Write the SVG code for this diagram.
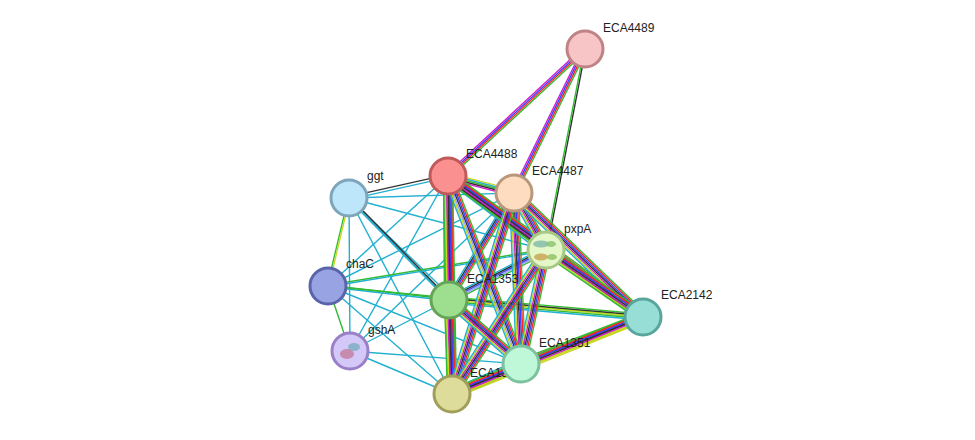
<svg xmlns="http://www.w3.org/2000/svg" xmlns:xlink="http://www.w3.org/1999/xlink" width="975" height="440" viewBox="0 0 975 440">
<style>
line,use{stroke-width:1.4;fill:none}
.g{stroke:#33bb33}.r{stroke:#ff2020}.b{stroke:#3344ff}.k{stroke:#333}.m{stroke:#cc22cc}.y{stroke:#c8d820}.c{stroke:#22b0d0}.l{stroke:#9999ff}
.n{stroke-width:3}
text{font-family:"Liberation Sans",Arial,sans-serif;font-size:12px;fill:#222}
</style>
<rect width="975" height="440" fill="#fff"/>
<defs>
<line id="BD" x1="448" y1="176" x2="449" y2="300"/>
<line id="BY" x1="448" y1="176" x2="452" y2="394"/>
<line id="DY" x1="449" y1="300" x2="452" y2="394"/>
<line id="BP" x1="448" y1="176" x2="546" y2="250"/>
<line id="BF" x1="448" y1="176" x2="521" y2="364"/>
<line id="BE" x1="448" y1="176" x2="643" y2="317"/>
<line id="CP" x1="514" y1="193" x2="546" y2="250"/>
<line id="CF" x1="514" y1="193" x2="521" y2="364"/>
<line id="CY" x1="514" y1="193" x2="452" y2="394"/>
<line id="CE" x1="514" y1="193" x2="643" y2="317"/>
<line id="PF" x1="546" y1="250" x2="521" y2="364"/>
<line id="PY" x1="546" y1="250" x2="452" y2="394"/>
<line id="PE" x1="546" y1="250" x2="643" y2="317"/>
<line id="DF" x1="449" y1="300" x2="521" y2="364"/>
<line id="FY" x1="521" y1="364" x2="452" y2="394"/>
<line id="FE" x1="521" y1="364" x2="643" y2="317"/>
<line id="YE" x1="452" y1="394" x2="643" y2="317"/>
<line id="BC" x1="448" y1="176" x2="514" y2="193"/>
<line id="CD" x1="514" y1="193" x2="449" y2="300"/>
<line id="PD" x1="546" y1="250" x2="449" y2="300"/>
<line id="DE" x1="449" y1="300" x2="643" y2="317"/>
<line id="AB" x1="585" y1="49" x2="448" y2="176"/>
<line id="AC" x1="585" y1="49" x2="514" y2="193"/>
<line id="AP" x1="585" y1="49" x2="546" y2="250"/>
<line id="GB" x1="349" y1="198" x2="448" y2="176"/>
<line id="GD" x1="349" y1="198" x2="449" y2="300"/>
<line id="GH" x1="349" y1="198" x2="328" y2="286"/>
<line id="HP" x1="328" y1="286" x2="546" y2="250"/>
<line id="HD" x1="328" y1="286" x2="449" y2="300"/>
<line id="HS" x1="328" y1="286" x2="350" y2="351"/>
</defs>
<g id="connectors">
<!-- cyan singles -->
<line class="c" x1="349" y1="198" x2="514" y2="193"/>
<line class="c" x1="349" y1="198" x2="546" y2="250"/>
<line class="c" x1="349" y1="198" x2="521" y2="364"/>
<line class="c" x1="349" y1="198" x2="452" y2="394"/>
<line class="c" x1="349" y1="198" x2="350" y2="351"/>
<line class="c" x1="328" y1="286" x2="448" y2="176"/>
<line class="c" x1="328" y1="286" x2="514" y2="193"/>
<line class="c" x1="328" y1="286" x2="521" y2="364"/>
<line class="c" x1="328" y1="286" x2="452" y2="394"/>
<line class="c" x1="350" y1="351" x2="449" y2="300"/>
<line class="c" x1="350" y1="351" x2="448" y2="176"/>
<line class="c" x1="350" y1="351" x2="521" y2="364"/>
<line class="c" x1="350" y1="351" x2="452" y2="394"/>
<line class="c" x1="350" y1="351" x2="514" y2="193"/>
<line class="c" x1="449" y1="300" x2="349" y2="198" transform="translate(0,0)"/>
<use href="#GB" class="k" transform="translate(-0.3,-1.4)"/><use href="#GB" class="c" transform="translate(0.3,1.4)"/>
<use href="#GD" class="k" transform="translate(0.7,-0.7)"/><use href="#GD" class="c" transform="translate(-0.7,0.7)"/>
<use href="#GH" class="g" transform="translate(-0.7,-0.2)"/><use href="#GH" class="y" transform="translate(0.7,0.2)"/>
<use href="#HP" class="g" transform="translate(-0.1,-0.7)"/><use href="#HP" class="c" transform="translate(0.1,0.7)"/>
<use href="#HD" class="g" transform="translate(0,-0.7)"/><use href="#HD" class="c" transform="translate(0,0.7)"/>
<use href="#HS" class="g"/>
<line class="g" x1="328" y1="286" x2="643" y2="317"/>
<!-- A edges -->
<use href="#AB" class="g" transform="translate(1.53,1.65)"/><use href="#AB" class="r" transform="translate(0.51,0.55)"/><use href="#AB" class="b" transform="translate(-0.51,-0.55)"/><use href="#AB" class="m" transform="translate(-1.53,-1.65)"/>
<use href="#AC" class="g" transform="translate(2.03,0.99)"/><use href="#AC" class="r" transform="translate(0.68,0.33)"/><use href="#AC" class="b" transform="translate(-0.68,-0.33)"/><use href="#AC" class="m" transform="translate(-2.03,-0.99)"/>
<use href="#AP" class="k" transform="translate(0.74,0.15)"/><use href="#AP" class="g" transform="translate(-0.74,-0.15)"/>
<!-- 5-line -->
<use href="#BC" class="y" transform="translate(0.74,-2.9)"/><use href="#BC" class="c" transform="translate(0.37,-1.45)"/><use href="#BC" class="g"/><use href="#BC" class="k" transform="translate(-0.37,1.45)"/><use href="#BC" class="m" transform="translate(-0.74,2.9)"/>
<use href="#CD" class="g" transform="translate(2.56,1.56)"/><use href="#CD" class="r" transform="translate(1.28,0.78)"/><use href="#CD" class="b"/><use href="#CD" class="k" transform="translate(-1.28,-0.78)"/><use href="#CD" class="c" transform="translate(-2.56,-1.56)"/>
<use href="#PD" class="g" transform="translate(1.38,2.66)"/><use href="#PD" class="l" transform="translate(0.69,1.33)"/><use href="#PD" class="b"/><use href="#PD" class="k" transform="translate(-0.69,-1.33)"/><use href="#PD" class="c" transform="translate(-1.38,-2.66)"/>
<use href="#DE" class="g" transform="translate(0.26,-2.98)"/><use href="#DE" class="k" transform="translate(0.13,-1.49)"/><use href="#DE" class="y"/><use href="#DE" class="g" transform="translate(-0.13,1.49)"/><use href="#DE" class="c" transform="translate(-0.26,2.98)"/>
<!-- 7-line vertical-ish -->
<g id="v7">
<use href="#BD" class="g" transform="translate(4.5,0)"/><use href="#BD" class="r" transform="translate(3,0)"/><use href="#BD" class="b" transform="translate(1.5,0)"/><use href="#BD" class="k"/><use href="#BD" class="m" transform="translate(-1.5,0)"/><use href="#BD" class="y" transform="translate(-3,0)"/><use href="#BD" class="g" transform="translate(-4.5,0)"/>
<use href="#BY" class="g" transform="translate(4.5,0)"/><use href="#BY" class="r" transform="translate(3,0)"/><use href="#BY" class="b" transform="translate(1.5,0)"/><use href="#BY" class="k"/><use href="#BY" class="m" transform="translate(-1.5,0)"/><use href="#BY" class="y" transform="translate(-3,0)"/><use href="#BY" class="g" transform="translate(-4.5,0)"/>
<use href="#DY" class="g" transform="translate(4.5,0)"/><use href="#DY" class="r" transform="translate(3,0)"/><use href="#DY" class="b" transform="translate(1.5,0)"/><use href="#DY" class="k"/><use href="#DY" class="m" transform="translate(-1.5,0)"/><use href="#DY" class="y" transform="translate(-3,0)"/><use href="#DY" class="g" transform="translate(-4.5,0)"/>
<use href="#CF" class="g" transform="translate(4.5,-0.2)"/><use href="#CF" class="r" transform="translate(3,-0.1)"/><use href="#CF" class="b" transform="translate(1.5,0)"/><use href="#CF" class="k"/><use href="#CF" class="m" transform="translate(-1.5,0)"/><use href="#CF" class="y" transform="translate(-3,0.1)"/><use href="#CF" class="c" transform="translate(-4.5,0.2)"/>
</g>
<use href="#BP" class="g" transform="translate(2.7,-3.6)"/><use href="#BP" class="r" transform="translate(1.8,-2.4)"/><use href="#BP" class="b" transform="translate(0.9,-1.2)"/><use href="#BP" class="k"/><use href="#BP" class="m" transform="translate(-0.9,1.2)"/><use href="#BP" class="y" transform="translate(-1.8,2.4)"/><use href="#BP" class="c" transform="translate(-2.7,3.6)"/>
<use href="#BF" class="g" transform="translate(4.2,-1.62)"/><use href="#BF" class="r" transform="translate(2.8,-1.08)"/><use href="#BF" class="b" transform="translate(1.4,-0.54)"/><use href="#BF" class="k"/><use href="#BF" class="l" transform="translate(-1.4,0.54)"/><use href="#BF" class="y" transform="translate(-2.8,1.08)"/><use href="#BF" class="c" transform="translate(-4.2,1.62)"/>
<use href="#BE" class="g" transform="translate(2.64,-3.66)"/><use href="#BE" class="r" transform="translate(1.76,-2.44)"/><use href="#BE" class="b" transform="translate(0.88,-1.22)"/><use href="#BE" class="k"/><use href="#BE" class="m" transform="translate(-0.88,1.22)"/><use href="#BE" class="k" transform="translate(-1.76,2.44)"/><use href="#BE" class="g" transform="translate(-2.64,3.66)"/>
<use href="#CP" class="g" transform="translate(3.93,-2.19)"/><use href="#CP" class="r" transform="translate(2.62,-1.46)"/><use href="#CP" class="b" transform="translate(1.31,-0.73)"/><use href="#CP" class="k"/><use href="#CP" class="m" transform="translate(-1.31,0.73)"/><use href="#CP" class="y" transform="translate(-2.62,1.46)"/><use href="#CP" class="c" transform="translate(-3.93,2.19)"/>
<use href="#CY" class="g" transform="translate(4.29,1.32)"/><use href="#CY" class="r" transform="translate(2.86,0.88)"/><use href="#CY" class="b" transform="translate(1.43,0.44)"/><use href="#CY" class="k"/><use href="#CY" class="m" transform="translate(-1.43,-0.44)"/><use href="#CY" class="y" transform="translate(-2.86,-0.88)"/><use href="#CY" class="c" transform="translate(-4.29,-1.32)"/>
<use href="#CE" class="g" transform="translate(3.12,-3.24)"/><use href="#CE" class="r" transform="translate(2.08,-2.16)"/><use href="#CE" class="b" transform="translate(1.04,-1.08)"/><use href="#CE" class="k"/><use href="#CE" class="m" transform="translate(-1.04,1.08)"/><use href="#CE" class="y" transform="translate(-2.08,2.16)"/><use href="#CE" class="c" transform="translate(-3.12,3.24)"/>
<use href="#PF" class="g" transform="translate(4.41,0.96)"/><use href="#PF" class="r" transform="translate(2.94,0.64)"/><use href="#PF" class="b" transform="translate(1.47,0.32)"/><use href="#PF" class="k"/><use href="#PF" class="m" transform="translate(-1.47,-0.32)"/><use href="#PF" class="y" transform="translate(-2.94,-0.64)"/><use href="#PF" class="c" transform="translate(-4.41,-0.96)"/>
<use href="#PY" class="g" transform="translate(3.78,2.46)"/><use href="#PY" class="r" transform="translate(2.52,1.64)"/><use href="#PY" class="b" transform="translate(1.26,0.82)"/><use href="#PY" class="k"/><use href="#PY" class="m" transform="translate(-1.26,-0.82)"/><use href="#PY" class="y" transform="translate(-2.52,-1.64)"/><use href="#PY" class="c" transform="translate(-3.78,-2.46)"/>
<use href="#PE" class="g" transform="translate(2.55,-3.69)"/><use href="#PE" class="r" transform="translate(1.7,-2.46)"/><use href="#PE" class="b" transform="translate(0.85,-1.23)"/><use href="#PE" class="k"/><use href="#PE" class="m" transform="translate(-0.85,1.23)"/><use href="#PE" class="y" transform="translate(-1.7,2.46)"/><use href="#PE" class="g" transform="translate(-2.55,3.69)"/>
<use href="#DF" class="g" transform="translate(3,-3.36)"/><use href="#DF" class="r" transform="translate(2,-2.24)"/><use href="#DF" class="b" transform="translate(1,-1.12)"/><use href="#DF" class="k"/><use href="#DF" class="m" transform="translate(-1,1.12)"/><use href="#DF" class="y" transform="translate(-2,2.24)"/><use href="#DF" class="c" transform="translate(-3,3.36)"/>
<use href="#FY" class="g" transform="translate(1.8,4.14)"/><use href="#FY" class="r" transform="translate(1.2,2.76)"/><use href="#FY" class="b" transform="translate(0.6,1.38)"/><use href="#FY" class="k"/><use href="#FY" class="m" transform="translate(-0.6,-1.38)"/><use href="#FY" class="y" transform="translate(-1.2,-2.76)"/><use href="#FY" class="c" transform="translate(-1.8,-4.14)"/>
<use href="#FE" class="g" transform="translate(-1.62,-4.2)"/><use href="#FE" class="r" transform="translate(-1.08,-2.8)"/><use href="#FE" class="b" transform="translate(-0.54,-1.4)"/><use href="#FE" class="k"/><use href="#FE" class="m" transform="translate(0.54,1.4)"/><use href="#FE" class="y" transform="translate(1.08,2.8)"/><use href="#FE" class="y" transform="translate(1.62,4.2)"/>
<use href="#YE" class="g" transform="translate(-1.68,-4.17)"/><use href="#YE" class="r" transform="translate(-1.12,-2.78)"/><use href="#YE" class="b" transform="translate(-0.56,-1.39)"/><use href="#YE" class="k"/><use href="#YE" class="m" transform="translate(0.56,1.39)"/><use href="#YE" class="y" transform="translate(1.12,2.78)"/><use href="#YE" class="y" transform="translate(1.68,4.17)"/>
</g>
<g id="ECA4489"><circle class="n" cx="585" cy="49" r="18" fill="#f8c5c6" stroke="#c08385"/><text x="603" y="32">ECA4489</text></g>
<g id="ECA4488"><circle class="n" cx="448" cy="176" r="18" fill="#fb9090" stroke="#c05a5a"/><text x="466" y="158">ECA4488</text></g>
<g id="ECA4487"><circle class="n" cx="514" cy="193" r="18" fill="#fddcc0" stroke="#b8977a"/><text x="532" y="175">ECA4487</text></g>
<g id="ggt"><circle class="n" cx="349" cy="198" r="18" fill="#bde6fb" stroke="#7fa5bb"/><text x="367" y="180">ggt</text></g>
<g id="pxpA"><circle class="n" cx="546" cy="250" r="18" fill="#e4f7c8" stroke="#a8c885"/>
<ellipse cx="541" cy="244" rx="8" ry="3.5" fill="#7fb8a8" opacity="0.8"/><ellipse cx="551" cy="244" rx="5" ry="3" fill="#88c070" opacity="0.8"/><ellipse cx="541" cy="257" rx="7" ry="3.5" fill="#c8a050" opacity="0.8"/><ellipse cx="552" cy="257" rx="5" ry="3" fill="#90c060" opacity="0.8"/>
<text x="564" y="233">pxpA</text></g>
<g id="chaC"><circle class="n" cx="328" cy="286" r="18" fill="#98a3e3" stroke="#5a64a8"/><text x="346" y="268">chaC</text></g>
<g id="ECA1353"><circle class="n" cx="449" cy="300" r="18" fill="#9ede8f" stroke="#66a558"/><text x="467" y="283">ECA1353</text></g>
<g id="ECA2142"><circle class="n" cx="643" cy="317" r="18" fill="#97dfd6" stroke="#5aa59b"/><text x="661" y="299">ECA2142</text></g>
<g id="gshA"><circle class="n" cx="350" cy="351" r="18" fill="#d4c8f8" stroke="#9a80c8"/>
<ellipse cx="347" cy="354" rx="7" ry="5" fill="#c07090" opacity="0.7"/><ellipse cx="354" cy="347" rx="6" ry="4" fill="#70a8b8" opacity="0.7"/>
<text x="368" y="334">gshA</text></g>
<g id="ECA13xx"><circle class="n" cx="452" cy="394" r="18" fill="#dedc9a" stroke="#a09e58"/><text x="470" y="377">ECA1352</text></g>
<g id="ECA1351"><circle class="n" cx="521" cy="364" r="18" fill="#bff7d9" stroke="#7cc29d"/><text x="539" y="347">ECA1351</text></g>
</svg>
